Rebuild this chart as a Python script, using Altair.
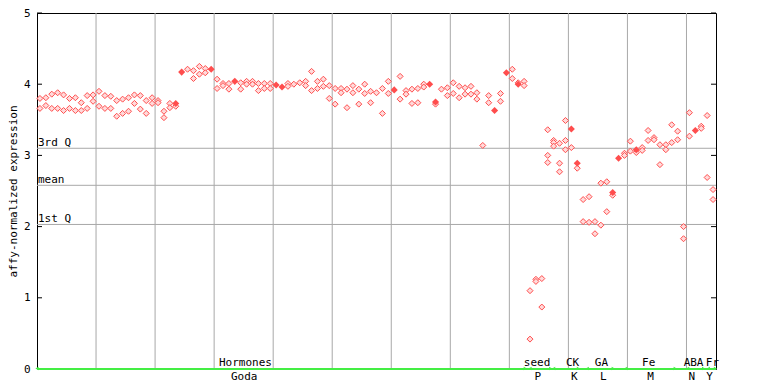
import altair as alt
import pandas as pd

N_SAMPLES = 115

rep_a = [3.80, 3.81, 3.86, 3.88, 3.85, 3.80, 3.81, 3.74, 3.84, 3.85,
         3.90, 3.84, 3.83, 3.77, 3.79, 3.81, 3.85, 3.84, 3.77, 3.81,
         3.77, 3.62, 3.73, 3.73, 4.17, 4.21, 4.19, 4.25, 4.22, 4.21,
         4.07, 4.01, 4.01, 4.04, 4.02, 4.04, 4.04, 4.01, 4.01, 4.01,
         3.99, 3.96, 4.01, 4.00, 4.02, 4.04, 4.18, 4.04, 4.07, 3.98,
         3.94, 3.94, 3.93, 3.98, 3.93, 4.00, 3.90, 3.88, 3.94, 4.04,
         3.92, 4.11, 3.91, 3.93, 3.94, 4.00, 4.00, 3.75, 3.93, 3.95,
         4.02, 3.97, 3.95, 3.97, 3.88, 3.14, 3.84, 3.63, 3.87, 4.16,
         4.21, 4.00, 4.04, 1.10, 1.26, 1.27, 3.36, 3.21, 3.17, 3.49,
         3.37, 2.89, 2.38, 2.42, 2.07, 2.61, 2.63, 2.48, 2.96, 3.03,
         3.20, 3.08, 3.11, 3.35, 3.25, 3.15, 3.15, 3.43, 3.34, 2.00,
         3.60, 3.35, 3.41, 3.56, 2.52]

rep_b = [3.66, 3.70, 3.66, 3.66, 3.63, 3.66, 3.63, 3.63, 3.66, 3.76,
         3.69, 3.66, 3.66, 3.55, 3.59, 3.62, 3.73, 3.65, 3.59, 3.73,
         3.74, 3.53, 3.67, 3.73, 4.17, None, 4.08, 4.14, 4.16, 4.21,
         3.94, 3.98, 3.93, 4.04, 3.93, 4.00, 4.00, 3.91, 3.94, 3.94,
         3.99, 3.96, 3.97, None, None, 3.98, 3.91, 3.94, 3.97, 3.80,
         3.72, 3.88, 3.67, 3.88, 3.72, 3.87, 3.74, None, 3.59, 3.87,
         3.92, 3.79, 3.86, 3.73, 3.74, 3.96, 4.00, 3.75, None, 3.84,
         3.87, 3.81, 3.86, 3.86, 3.79, None, 3.74, 3.63, 3.76, 4.16,
         4.08, 4.00, 3.98, 0.42, 1.23, 0.87, 3.00, 3.18, 2.89, 3.21,
         3.37, 2.89, 2.07, 2.06, 1.90, 2.02, 2.21, 2.48, 2.96, 3.00,
         3.06, 3.08, 3.07, 3.21, 3.22, 2.87, 3.08, 3.18, 3.22, 1.83,
         3.27, 3.35, 3.38, 2.69, 2.38]

# third replicate (only where present)
rep_c = {23: 3.69, 67: 3.72, 81: 4.02, 86: 2.90, 87: 3.13, 88: 2.77,
         89: 3.08, 90: 3.11, 91: 2.82, 97: 2.44, 101: 3.04}

stat_names = ["3rd Q", "mean", "1st Q"]
stat_values = [3.10, 2.58, 2.03]

y_ticks = [0, 1, 2, 3, 4, 5]
grid_positions = [10, 20, 30, 40, 50, 60, 70, 80, 90, 100, 110]

group_top = ["Hormones", "seed", "CK", "GA", "Fe", "ABA", "Fr"]
group_bottom = ["Goda", "P", "K", "L", "M", "N", "Y"]
group_start = [0.0, 83.5, 87.5, 93.2, 99.7, 110.2, 113.7]
group_end = [82.7, 87.0, 91.7, 97.6, 108.1, 112.9, 114.9]
label_top_pos = [35.3, 84.7, 90.7, 95.6, 103.6, 111.2, 114.4]
label_bottom_pos = [35.1, 84.8, 91.0, 95.9, 103.9, 110.9, 113.9]

# ---- build tables ----
rows = []
for i in range(N_SAMPLES):
    a, b = rep_a[i], rep_b[i]
    c = rep_c.get(i)
    pos = i + 0.5
    if b is not None and b == a:
        rows.append({"pos": pos, "value": a, "kind": "solid"})
    else:
        rows.append({"pos": pos, "value": a, "kind": "rep"})
        if b is not None:
            rows.append({"pos": pos, "value": b, "kind": "rep"})
    if c is not None:
        rows.append({"pos": pos, "value": c, "kind": "rep"})
pts = pd.DataFrame(rows)

stats_df = pd.DataFrame({"name": stat_names, "value": stat_values})
ticks_df = pd.DataFrame({"v": y_ticks})
grid_df = pd.DataFrame({"g": grid_positions})
groups_df = pd.DataFrame({
    "top": group_top, "bottom": group_bottom,
    "start": group_start, "end": group_end,
    "ltop": label_top_pos, "lbot": label_bottom_pos,
})

W, H = 679, 356
FONT = "DejaVu Sans Mono"
GRID = "#a8a8a8"
GREEN = "#44ee44"

xs = alt.Scale(domain=[0, N_SAMPLES], nice=False, zero=False)
ys = alt.Scale(domain=[0, 5], nice=False, zero=True)

base = alt.Chart(pts)

grid = alt.Chart(grid_df).mark_rule(color=GRID, strokeWidth=1).encode(
    x=alt.X("g:Q", scale=xs, axis=None),
    y=alt.value(0), y2=alt.value(H),
)

stat_rules = alt.Chart(stats_df).mark_rule(color=GRID, strokeWidth=1).encode(
    y=alt.Y("value:Q", scale=ys),
    x=alt.value(0), x2=alt.value(W),
)

stat_text = alt.Chart(stats_df).mark_text(
    font=FONT, fontSize=11, align="left", baseline="alphabetic", dx=1, dy=-2,
    color="black",
).encode(
    y=alt.Y("value:Q", scale=ys), x=alt.value(0), text="name:N",
)

hollow = base.transform_filter(alt.datum.kind == "rep").mark_point(
    shape="diamond", size=36, filled=False, stroke="#ff4d4d", strokeWidth=1,
    fill="#ffdada", fillOpacity=1, opacity=1,
).encode(
    x=alt.X("pos:Q", scale=xs, axis=None),
    y=alt.Y("value:Q", scale=ys,
            axis=alt.Axis(values=y_ticks, format="d",
                          title="affy-normalized expression",
                          grid=False, ticks=False, domain=True,
                          domainColor="black", labelFont=FONT, labelFontSize=11,
                          labelColor="black", labelPadding=7, titleFont=FONT,
                          titleFontSize=11, titleFontWeight="normal",
                          titleColor="black", titlePadding=5)),
)

solid = base.transform_filter(alt.datum.kind == "solid").mark_point(
    shape="diamond", size=50, filled=True, color="#ff4d4d", opacity=1,
).encode(
    x=alt.X("pos:Q", scale=xs), y=alt.Y("value:Q", scale=ys),
)

left_ticks = alt.Chart(ticks_df).mark_rule(color="black").encode(
    y=alt.Y("v:Q", scale=ys), x=alt.value(0), x2=alt.value(5),
)
right_ticks = alt.Chart(ticks_df).mark_rule(color="black").encode(
    y=alt.Y("v:Q", scale=ys), x=alt.value(W - 5), x2=alt.value(W),
)

green_line = alt.Chart(groups_df).mark_rule(color=GREEN, strokeWidth=2).encode(
    y=alt.value(H), x=alt.value(0), x2=alt.value(W),
)

arrow_l = alt.Chart(groups_df).mark_point(
    shape="triangle-left", size=14, filled=True, color=GREEN, opacity=1,
).encode(x=alt.X("start:Q", scale=xs), y=alt.value(H - 0.5))
arrow_r = alt.Chart(groups_df).mark_point(
    shape="triangle-right", size=14, filled=True, color=GREEN, opacity=1,
).encode(x=alt.X("end:Q", scale=xs), y=alt.value(H - 0.5))

top_labels = alt.Chart(groups_df).mark_text(
    font=FONT, fontSize=11, baseline="alphabetic", align="center", color="black",
).encode(x=alt.X("ltop:Q", scale=xs), y=alt.value(H - 3), text="top:N")

bottom_labels = alt.Chart(groups_df).mark_text(
    font=FONT, fontSize=11, baseline="alphabetic", align="center", color="black",
).encode(x=alt.X("lbot:Q", scale=xs), y=alt.value(H + 11), text="bottom:N")

chart = alt.layer(
    grid, stat_rules, stat_text, hollow, solid, left_ticks, right_ticks,
    green_line, arrow_l, arrow_r, top_labels, bottom_labels,
).properties(
    width=W, height=H,
    padding={"left": 37, "top": 13, "right": 52, "bottom": 15},
    autosize=alt.AutoSizeParams(type="none"),
    background="white",
).configure_view(stroke="black", strokeWidth=1)

chart.save("out.html", embed_options={"renderer": "svg", "actions": False})
